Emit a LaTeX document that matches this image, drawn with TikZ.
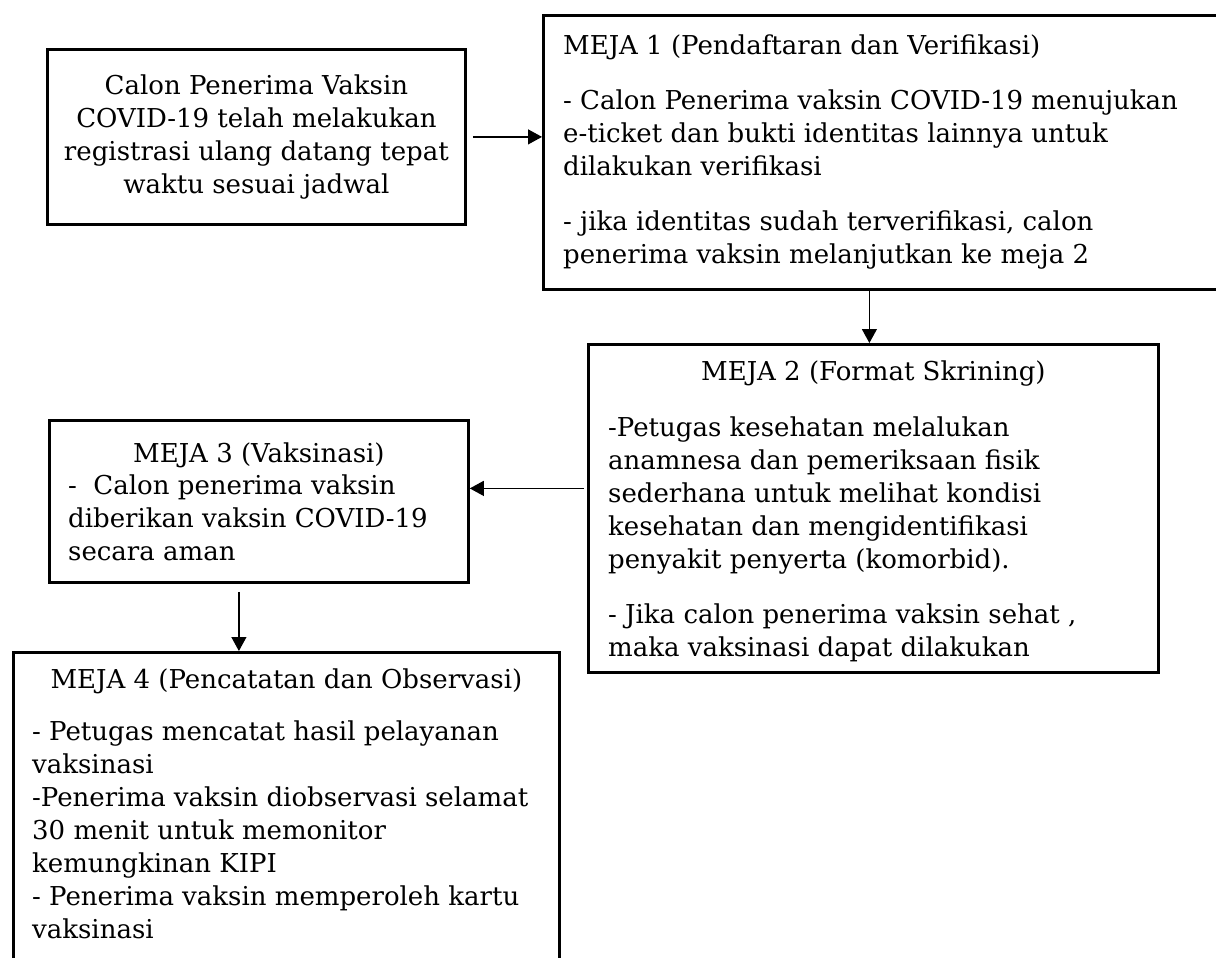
\documentclass[tikz,border=0pt]{standalone}
\usepackage{fontspec}
\setmainfont{DejaVu Serif}
\usetikzlibrary{arrows.meta,calc}
\begin{document}
\begin{tikzpicture}[x=1pt,y=-1pt]
    \tikzstyle{tbox}=[draw, line width=2.8pt, rectangle, anchor=north west, inner sep=0pt]
    \tikzstyle{tarr}=[line width=1.2pt, -{Triangle[length=14pt,width=15pt]}]
    \tikzstyle{ttext}=[inner sep=0pt, align=left, anchor=base west, font=\fontsize{26}{33}\selectfont]
    \tikzstyle{ttitle}=[inner sep=0pt, anchor=base, font=\fontsize{26}{33}\selectfont]
    \def\pgap{22pt}

    \useasboundingbox (0,0) rectangle (1216,958);
    \clip (0,0) rectangle (1216,958);

    % boxes
    \node[tbox, minimum width=418pt, minimum height=175pt, align=center,
          font=\fontsize{26}{33}\selectfont] (calon) at (46,48)
        {Calon Penerima Vaksin\\ COVID-19 telah melakukan\\ registrasi ulang datang tepat\\ waktu sesuai jadwal};
    \node[tbox, minimum width=688pt, minimum height=274pt] (meja1) at (542,14) {};
    \node[tbox, minimum width=570pt, minimum height=328pt] (meja2) at (587,343) {};
    \node[tbox, minimum width=419pt, minimum height=162pt] (meja3) at (48,419) {};
    \node[tbox, minimum width=546pt, minimum height=330pt] (meja4) at (12,651) {};

    % meja 1 (base = last line)
    \node[ttext] (isi1) at ($(meja1.north west)+(21,249)$)
        {MEJA 1 (Pendaftaran dan Verifikasi)\\[\pgap]
         - Calon Penerima vaksin COVID-19 menujukan\\
         e-ticket dan bukti identitas lainnya untuk\\
         dilakukan verifikasi\\[\pgap]
         - jika identitas sudah terverifikasi, calon\\
         penerima vaksin melanjutkan ke meja 2};

    % meja 2
    \node[ttitle] (judul2) at ($(meja2.north)+(0,37)$) {MEJA 2 (Format Skrining)};
    \node[ttext] (isi2) at ($(meja2.north west)+(21,313)$)
        {-Petugas kesehatan melalukan\\
         anamnesa dan pemeriksaan fisik\\
         sederhana untuk melihat kondisi\\
         kesehatan dan mengidentifikasi\\
         penyakit penyerta (komorbid).\\[\pgap]
         - Jika calon penerima vaksin sehat ,\\
         maka vaksinasi dapat dilakukan};

    % meja 3
    \node[ttitle] (judul3) at ($(meja3.north)+(0,43)$) {MEJA 3 (Vaksinasi)};
    \node[ttext] (isi3) at ($(meja3.north west)+(20,141)$)
        {- \ Calon penerima vaksin\\
         diberikan vaksin COVID-19\\
         secara aman};

    % meja 4
    \node[ttitle] (judul4) at ($(meja4.north)+(0,37)$) {MEJA 4 (Pencatatan dan Observasi)};
    \node[ttext] (isi4) at ($(meja4.north west)+(20,287)$)
        {- Petugas mencatat hasil pelayanan\\
         vaksinasi\\
         -Penerima vaksin diobservasi selamat\\
         30 menit untuk memonitor\\
         kemungkinan KIPI\\
         - Penerima vaksin memperoleh kartu\\
         vaksinasi};

    % arrows
    \draw[tarr, shorten <=6pt] (calon.east) -- (calon.east -| meja1.west);
    \draw[tarr] ([xshift=-4pt]meja2.north |- meja1.south) -- ([xshift=-4pt]meja2.north);
    \draw[tarr] ([yshift=20pt,xshift=-3pt]meja2.west) -- ([yshift=20pt]meja2.west -| meja3.east);
    \draw[tarr, shorten <=8pt] ([xshift=-20pt]meja3.south) -- ([xshift=-20pt]meja3.south |- meja4.north);
\end{tikzpicture}
\end{document}
